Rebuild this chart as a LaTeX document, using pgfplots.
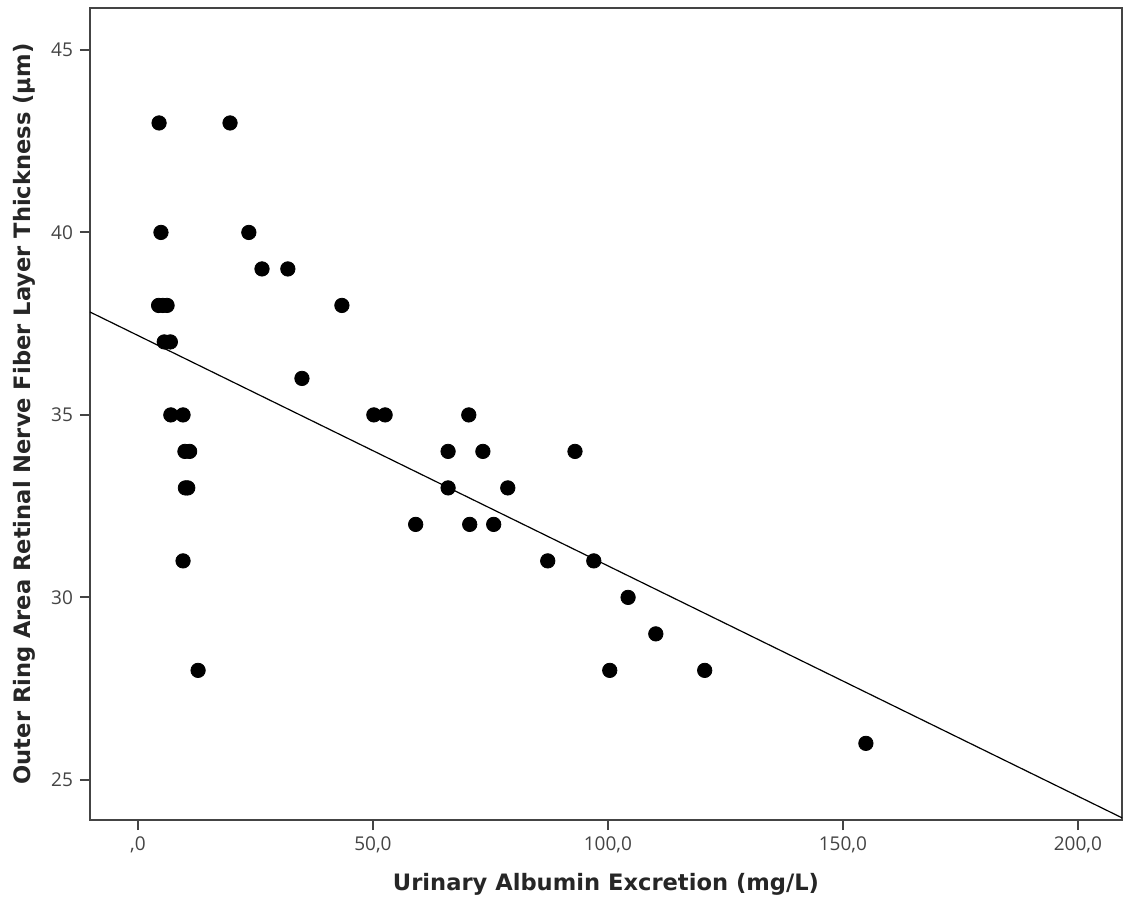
\documentclass[border=0pt]{standalone}
\usepackage{pgfplots}
\pgfplotsset{compat=1.18}
\usepackage{fontspec}
\setmainfont{Open Sans}
\newfontfamily\labelfont{DejaVu Sans}
\definecolor{axisgray}{HTML}{444444}
\begin{document}
\begin{tikzpicture}
\begin{axis}[
  at={(0,0)}, anchor=south west,
  scale only axis,
  width=516pt, height=406pt,
  xmin=-10.2, xmax=209.4,
  ymin=23.9, ymax=46.15,
  xtick={0,50,100,150,200},
  xticklabels={{,0},{50,0},{100,0},{150,0},{200,0}},
  ytick={25,30,35,40,45},
  tick align=outside,
  xtick pos=bottom, ytick pos=left,
  major tick length=5pt,
  tick style={axisgray, line width=1pt},
  axis line style={axisgray, line width=1pt},
  ticklabel style={font=\fontsize{9.5}{11}\selectfont, text=axisgray},
  /pgf/number format/assume math mode=true,
  xlabel={Urinary Albumin Excretion (mg/L)},
  ylabel={Outer Ring Area Retinal Nerve Fiber Layer Thickness (μm)},
  label style={font=\labelfont\fontsize{11.3}{13}\selectfont\bfseries, text=black!85},
  xlabel style={yshift=-3pt},
  ylabel style={yshift=1pt},
  clip=true,
]
% fit line
\addplot[black, line width=0.6pt] coordinates {(-10.2,37.82) (209.4,23.96)};
% observations
\addplot[only marks, mark=*, mark size=3.6pt, black] coordinates {
  (4.5,43) (19.6,43)
  (4.9,40) (23.6,40)
  (26.4,39) (31.9,39)
  (4.4,38) (5.3,38) (6.2,38) (43.4,38)
  (5.6,37) (6.9,37)
  (34.9,36)
  (7.0,35) (9.6,35) (50.2,35) (52.6,35) (70.4,35)
  (10.0,34) (11.0,34) (66.0,34) (73.4,34) (93.0,34)
  (10.1,33) (10.6,33) (66.0,33) (78.7,33)
  (59.1,32) (70.6,32) (75.7,32)
  (9.6,31) (87.2,31) (97.0,31)
  (104.3,30)
  (110.2,29)
  (12.8,28) (100.4,28) (120.6,28)
  (154.9,26)
};
\end{axis}
\path[use as bounding box] (-45pt,-42pt) rectangle (516.5pt,410pt);
\end{tikzpicture}
\end{document}
